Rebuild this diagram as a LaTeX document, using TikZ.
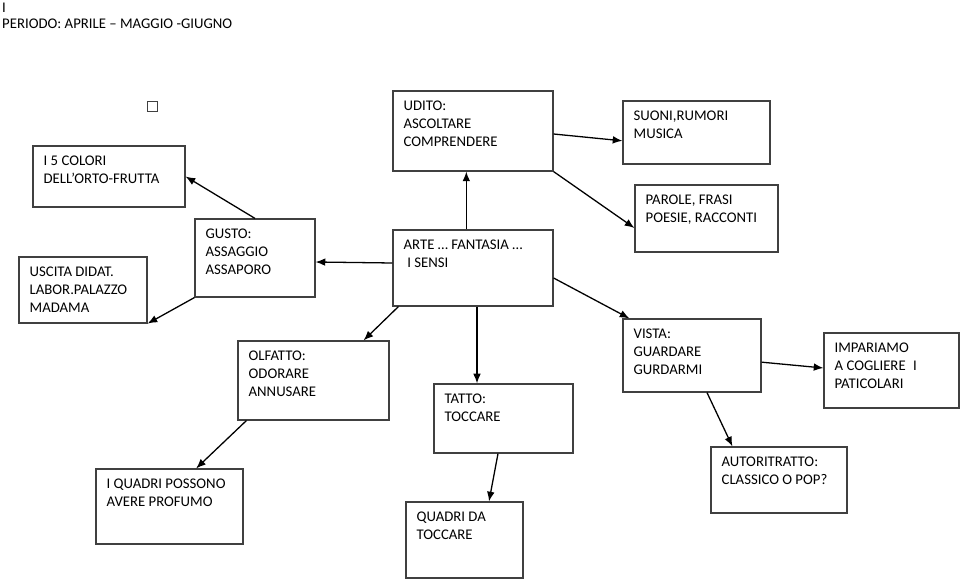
\documentclass[tikz,border=0pt]{standalone}
\usepackage{fontspec}
\setmainfont{Carlito}
\usetikzlibrary{arrows.meta}

\begin{document}
\begin{tikzpicture}[>={Latex[length=2.9mm,width=2.3mm]},
    box/.style={draw=black!75, line width=1pt, inner sep=0pt},
    txt/.style={anchor=north west, align=left, inner xsep=0.33cm, inner ysep=0.32cm, font=\fontsize{12.6}{15}\selectfont},
    link/.style={draw=black, line width=1.1pt, ->}]
    \useasboundingbox (0,0) rectangle (28.8,17.4);
    % intestazione
    \node (tit) [anchor=north west, inner sep=0pt, font=\fontsize{12.6}{15}\selectfont] at (0.06,17.31) {I};
    \node (per) [anchor=north west, inner sep=0pt, font=\fontsize{12.6}{15}\selectfont] at (0.06,16.83) {PERIODO: APRILE – MAGGIO -GIUGNO};
    \node (sq) [box, line width=0.8pt, minimum size=0.3cm] at (4.56,14.22) {};
    % i sensi
    \node (arte)   [box, minimum width=4.8cm, minimum height=2.28cm, label={[txt]north west:{ARTE … FANTASIA …\\\hspace*{0.25em}I SENSI}}] at (14.19,9.36) {};
    \node (udito)  [box, minimum width=4.8cm, minimum height=2.4cm, label={[txt]north west:{UDITO:\\ASCOLTARE\\COMPRENDERE}}] at (14.19,13.47) {};
    \node (gusto)  [box, minimum width=3.6cm, minimum height=2.34cm, label={[txt]north west:{GUSTO:\\ASSAGGIO\\ASSAPORO}}] at (7.65,9.66) {};
    \node (olfatto) [box, minimum width=4.53cm, minimum height=2.37cm, label={[txt]north west:{OLFATTO:\\ODORARE\\ANNUSARE}}] at (9.405,5.985) {};
    \node (tatto)  [box, minimum width=4.17cm, minimum height=2.07cm, label={[txt]north west:{TATTO:\\TOCCARE}}] at (15.105,4.845) {};
    \node (vista)  [box, minimum width=4.14cm, minimum height=2.19cm, label={[txt]north west:{VISTA:\\GUARDARE\\GURDARMI}}] at (20.76,6.735) {};
    % attivita
    \node (colori) [box, minimum width=4.56cm, minimum height=1.83cm, label={[txt]north west:{I 5 COLORI\\DELL’ORTO-FRUTTA}}] at (3.27,12.105) {};
    \node (uscita) [box, minimum width=3.84cm, minimum height=1.98cm, label={[txt]north west:{USCITA DIDAT.\\LABOR.PALAZZO\\MADAMA}}] at (2.49,8.7) {};
    \node (suoni)  [box, minimum width=4.41cm, minimum height=1.89cm, label={[txt]north west:{SUONI,RUMORI\\MUSICA}}] at (20.895,13.425) {};
    \node (parole) [box, minimum width=4.29cm, minimum height=2.01cm, label={[txt]north west:{PAROLE, FRASI\\POESIE, RACCONTI}}] at (21.195,10.845) {};
    \node (iquadri) [box, minimum width=4.41cm, minimum height=2.25cm, label={[txt]north west:{I QUADRI POSSONO\\AVERE PROFUMO}}] at (5.085,2.205) {};
    \node (quadrida) [box, minimum width=3.51cm, minimum height=2.28cm, label={[txt]north west:{QUADRI DA\\TOCCARE}}] at (13.935,1.2) {};
    \node (impariamo) [box, minimum width=4.05cm, minimum height=2.25cm, label={[txt]north west:{IMPARIAMO\\A COGLIERE\hspace*{0.5em}I\\PATICOLARI}}] at (26.745,6.285) {};
    \node (autorit) [box, minimum width=4.08cm, minimum height=1.98cm, label={[txt]north west:{AUTORITRATTO:\\CLASSICO O POP?}}] at (23.37,3.0) {};
    % frecce
    \draw [link] (gusto.north) -- (colori.east);
    \draw [link] (gusto.south west) -- (uscita.south east);
    \draw [link] ([yshift=0.15cm]arte.west) -- ([yshift=-0.12cm]gusto.east);
    \draw [link] ([xshift=-0.2cm]arte.north) -- ([xshift=-0.2cm]udito.south);
    \draw [link] ([yshift=-0.09cm]udito.east) -- ([yshift=-0.25cm]suoni.west);
    \draw [link] (udito.south east) -- ([yshift=-0.285cm]parole.west);
    \draw [link] ([yshift=-0.3cm]arte.east) -- ([xshift=0.21cm]vista.north west);
    \draw [link] ([xshift=0.18cm]arte.south west) -- ([xshift=-0.78cm]olfatto.north east);
    \draw [link] ([xshift=0.12cm]arte.south) -- ([xshift=-0.795cm]tatto.north);
    \draw [link] ([xshift=0.27cm]olfatto.south west) -- ([xshift=0.8cm]iquadri.north);
    \draw [link] ([xshift=-0.165cm]tatto.south) -- ([xshift=0.735cm]quadrida.north);
    \draw [link] ([yshift=-0.2cm]vista.east) -- ([yshift=0.075cm]impariamo.west);
    \draw [link] ([xshift=0.45cm]vista.south) -- ([xshift=0.66cm]autorit.north west);
\end{tikzpicture}
\end{document}
